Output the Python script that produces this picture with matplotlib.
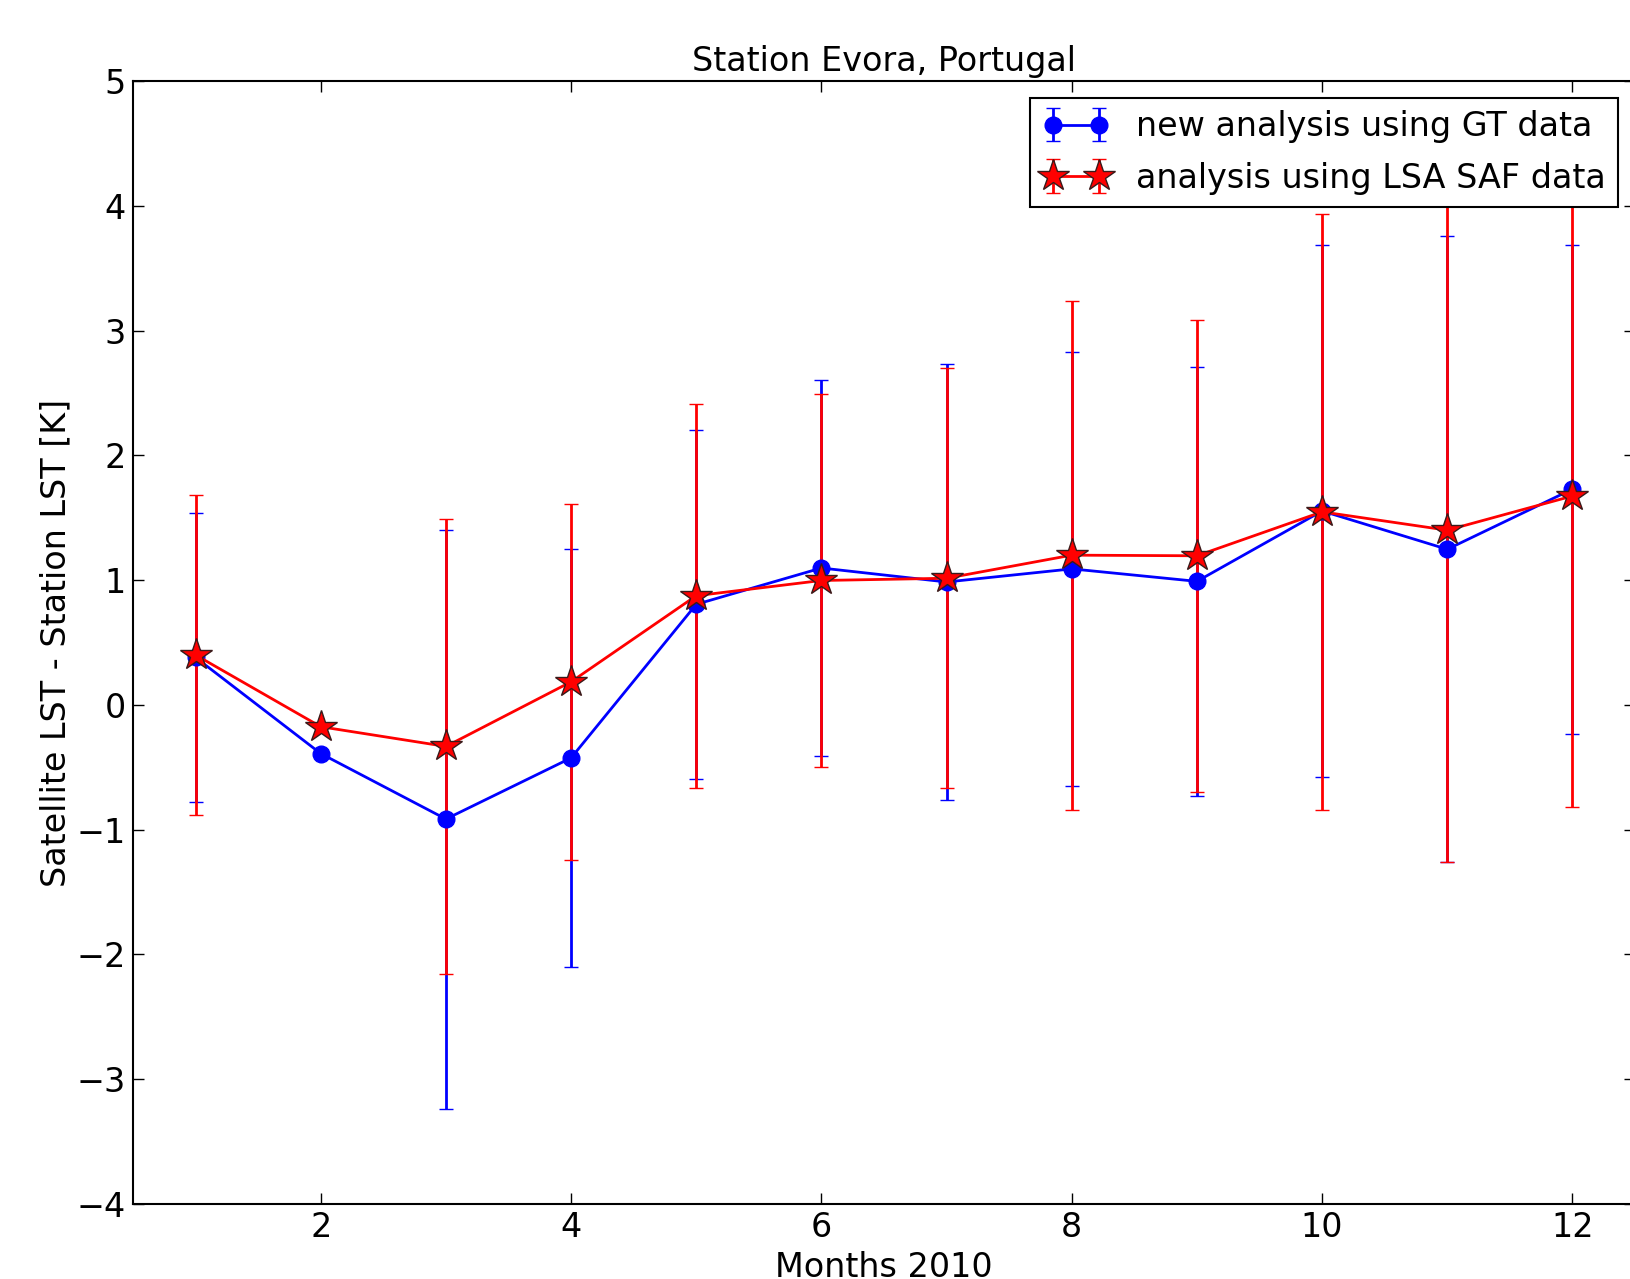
import matplotlib
matplotlib.use("Agg")
import matplotlib.pyplot as plt

months = [1, 2, 3, 4, 5, 6, 7, 8, 9, 10, 11, 12]

gt_mean = [0.38, -0.39, -0.915, -0.425, 0.806, 1.097, 0.985, 1.09, 0.99, 1.554, 1.247, 1.729]
gt_std = [1.16, 0.0, 2.32, 1.675, 1.397, 1.51, 1.747, 1.737, 1.72, 2.134, 2.508, 1.959]

lsa_mean = [0.40, -0.175, -0.333, 0.185, 0.875, 0.997, 1.015, 1.2, 1.195, 1.547, 1.40, 1.674]
lsa_std = [1.28, 0.0, 1.82, 1.425, 1.54, 1.497, 1.683, 2.04, 1.89, 2.39, 2.66, 2.49]

plt.rcParams["font.family"] = "DejaVu Sans"
plt.rcParams["font.size"] = 24

fig = plt.figure(figsize=(16.3, 12.79), dpi=100)
ax = fig.add_axes([133 / 1630, 75 / 1279, 1502 / 1630, 1123 / 1279])

ax.errorbar(months, gt_mean, yerr=gt_std, fmt="-o", color="b", lw=2, elinewidth=2,
            ms=12, mec="b", capsize=5, capthick=1,
            label="new analysis using GT data")
ax.errorbar(months, lsa_mean, yerr=lsa_std, fmt="-*", color="r", lw=2, elinewidth=2,
            ms=24, mfc="r", mec="#3a1a1a", mew=1, capsize=5, capthick=1,
            label="analysis using LSA SAF data")

ax.set_xlim(0.5, 12.5)
ax.set_ylim(-4, 5)
ax.set_xticks([2, 4, 6, 8, 10, 12])
ax.set_yticks(range(-4, 6))
ax.tick_params(direction="in", top=True, right=True, length=8, width=1, pad=5, labelsize=24)
for s in ax.spines.values():
    s.set_linewidth(1.5)

ax.set_title("Station Evora, Portugal", fontsize=24, pad=7)
ax.set_xlabel("Months 2010", fontsize=24, labelpad=5)
ax.set_ylabel("Satellite LST - Station LST [K]", fontsize=24, labelpad=3)

leg = ax.legend(loc="upper right", numpoints=2, fancybox=False, framealpha=1,
                edgecolor="black", fontsize=24, borderaxespad=0.5,
                handlelength=2, borderpad=0.38, labelspacing=0.55)
leg.get_frame().set_linewidth(1.5)

fig.savefig("out.png", dpi=100)
